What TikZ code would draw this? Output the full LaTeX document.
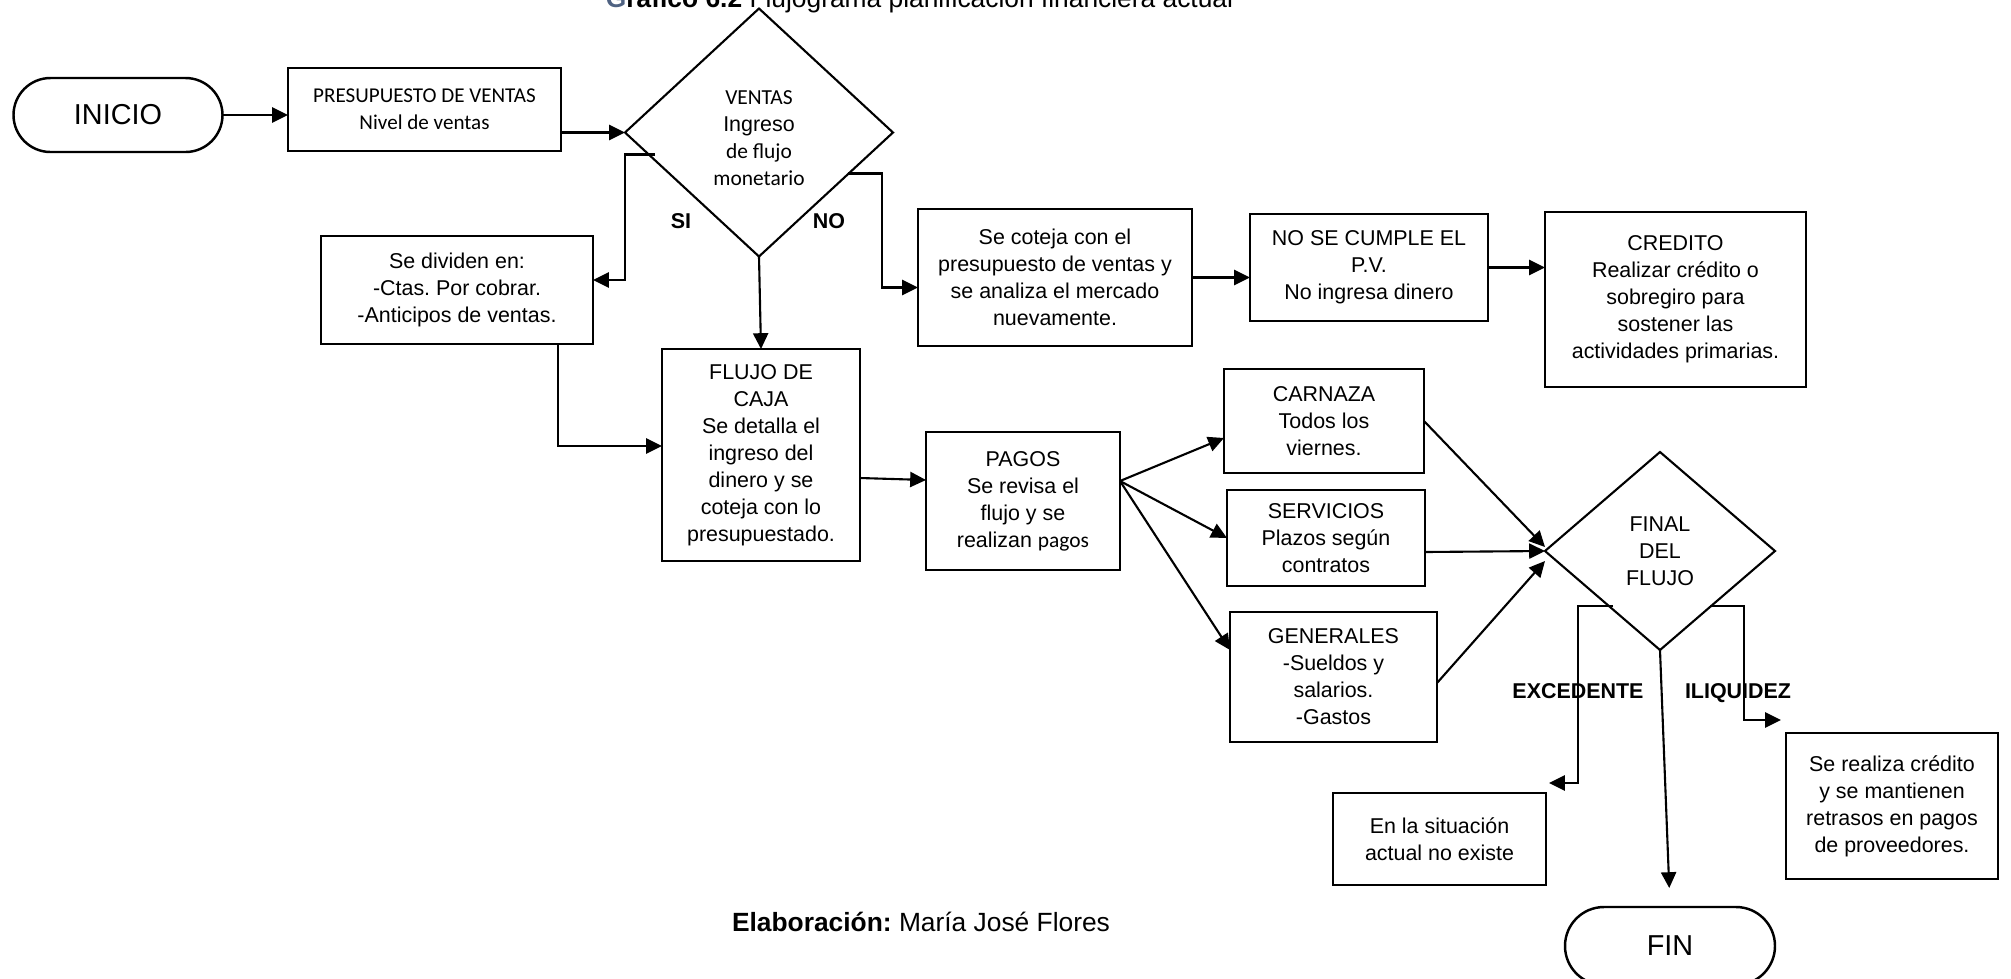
\documentclass[tikz,border=0pt]{standalone}
\usepackage{fontspec}
\setmainfont{Liberation Sans}
\newfontfamily\calfont{Carlito}
\usetikzlibrary{shapes.geometric,shapes.misc,arrows.meta}
\definecolor{titgris}{RGB}{79,98,130}
\frenchspacing

\begin{document}
\begin{tikzpicture}[
    caja/.style={draw, line width=0.7pt, align=center, inner sep=0pt, outer sep=0pt, font=\fontsize{6.1}{7.7}\selectfont},
    rombo/.style={caja, diamond, line width=0.6pt},
    terminal/.style={caja, rounded rectangle, font=\fontsize{8.2}{10}\selectfont},
    etiqueta/.style={anchor=base, font=\fontsize{6.1}{7.7}\selectfont\bfseries},
    flecha/.style={-{Triangle[length=4.5pt,width=4.3pt]}, line width=0.6pt}
]
    \useasboundingbox (0,0) rectangle (20.11,-9.78);

    \node[anchor=base, font=\fontsize{7.5}{9}\selectfont] (titulo) at (9.195,-0.07) {\textbf{\textcolor{titgris}{G}ráfico 6.2} Flujograma planificación financiera actual};

    \node[terminal, minimum width=2.09cm, minimum height=0.74cm] (inicio) at (1.18,-1.15) {INICIO};
    \node[caja, minimum width=2.73cm, minimum height=0.83cm, font=\calfont\fontsize{6}{7.7}\selectfont] (presup) at (4.245,-1.095) {PRESUPUESTO DE VENTAS\\Nivel de ventas};
    \node[rombo, minimum width=2.68cm, minimum height=2.48cm] (ventas) at (7.59,-1.325) {\rule{0pt}{7pt}{\calfont VENTAS}\\Ingreso\\{\calfont de flujo}\\{\calfont monetario}};
    \node[caja, minimum width=2.72cm, minimum height=1.08cm] (divide) at (4.57,-2.90) {Se dividen en:\\-Ctas. Por cobrar.\\-Anticipos de ventas.};
    \node[caja, minimum width=1.98cm, minimum height=2.12cm] (flujo) at (7.61,-4.55) {FLUJO DE\\CAJA\\Se detalla el\\ingreso del\\dinero y se\\coteja con lo\\presupuestado.};
    \node[caja, minimum width=2.74cm, minimum height=1.37cm] (coteja) at (10.55,-2.775) {Se coteja con el\\presupuesto de ventas y\\se analiza el mercado\\nuevamente.};
    \node[caja, minimum width=2.38cm, minimum height=1.07cm] (nocumple) at (13.69,-2.675) {NO SE CUMPLE EL\\P.V.\\No ingresa dinero};
    \node[caja, minimum width=2.61cm, minimum height=1.75cm] (credito) at (16.755,-2.995) {CREDITO\\Realizar crédito o\\sobregiro para\\sostener las\\actividades primarias.};
    \node[caja, minimum width=1.94cm, minimum height=1.38cm] (pagos) at (10.23,-5.01) {PAGOS\\Se revisa el\\flujo y se\\realizan {\calfont pagos}};
    \node[caja, minimum width=2.00cm, minimum height=1.04cm] (carnaza) at (13.24,-4.21) {CARNAZA\\Todos los\\viernes.};
    \node[caja, minimum width=1.98cm, minimum height=0.96cm] (servicios) at (13.26,-5.38) {SERVICIOS\\Plazos según\\contratos};
    \node[caja, minimum width=2.07cm, minimum height=1.30cm] (generales) at (13.335,-6.77) {GENERALES\\-Sueldos y\\salarios.\\-Gastos};
    \node[rombo, minimum width=2.30cm, minimum height=1.98cm] (final) at (16.60,-5.51) {FINAL\\DEL\\FLUJO};
    \node[caja, minimum width=2.13cm, minimum height=0.92cm] (noexiste) at (14.395,-8.39) {En la situación\\actual no existe};
    \node[caja, minimum width=2.12cm, minimum height=1.46cm] (mantiene) at (18.92,-8.06) {Se realiza crédito\\y se mantienen\\retrasos en pagos\\de proveedores.};
    \node[terminal, minimum width=2.10cm, minimum height=0.78cm] (fin) at (16.70,-9.46) {FIN};

    \node[etiqueta] (si) at (6.81,-2.28) {SI};
    \node[etiqueta] (no) at (8.29,-2.28) {NO};
    \node[etiqueta] (excedente) at (15.78,-6.98) {EXCEDENTE};
    \node[etiqueta] (iliquidez) at (17.38,-6.98) {ILIQUIDEZ};

    \node[anchor=base, font=\fontsize{7.5}{9}\selectfont] (autora) at (9.21,-9.31) {\textbf{Elaboración:} María José Flores};

    \draw[flecha] (inicio.east) -- (inicio.east -| presup.west);
    \draw[flecha] (presup.east |- ventas.west) -- (ventas.west);
    \draw[flecha] ([shift={(0.30,-0.22)}]ventas.west) -- ++(-0.30,0) |- ([yshift=0.10cm]divide.east);
    \draw[flecha] ([shift={(-0.45,-0.41)}]ventas.east) -- ++(0.34,0) |- ([yshift=-0.10cm]coteja.west);
    \draw[flecha] (ventas.south) -- (flujo.north);
    \draw[flecha] ([xshift=1.01cm]divide.south) |- ([yshift=0.09cm]flujo.west);
    \draw[flecha] ([yshift=-0.23cm]flujo.east) -- ([yshift=0.21cm]pagos.west);
    \draw[flecha] (coteja.east) -- (coteja.east -| nocumple.west);
    \draw[flecha] (nocumple.east) -- (nocumple.east -| credito.west);

    \draw[flecha] ([yshift=0.20cm]pagos.east) -- ([yshift=-0.17cm]carnaza.west);
    \draw[flecha] ([yshift=0.20cm]pagos.east) -- (servicios.west);
    \draw[flecha] ([yshift=0.20cm]pagos.east) -- ([yshift=0.27cm]generales.west);
    \draw[flecha] (carnaza.east) -- ([yshift=0.04cm]final.west);
    \draw[flecha] ([yshift=-0.14cm]servicios.east) -- (final.west);
    \draw[flecha] ([yshift=-0.06cm]generales.east) -- ([yshift=-0.10cm]final.west);

    \draw[flecha] ([shift={(0.68,-0.55)}]final.west) -- ++(-0.35,0) |- ([shift={(0.03,0.10)}]noexiste.north east);
    \draw[flecha] ([shift={(-0.65,-0.55)}]final.east) -- ++(0.34,0) |- ([shift={(-0.05,0.13)}]mantiene.north west);
    \draw[flecha, shorten >=0.19cm] (final.south) -- (fin.north);
\end{tikzpicture}
\end{document}
